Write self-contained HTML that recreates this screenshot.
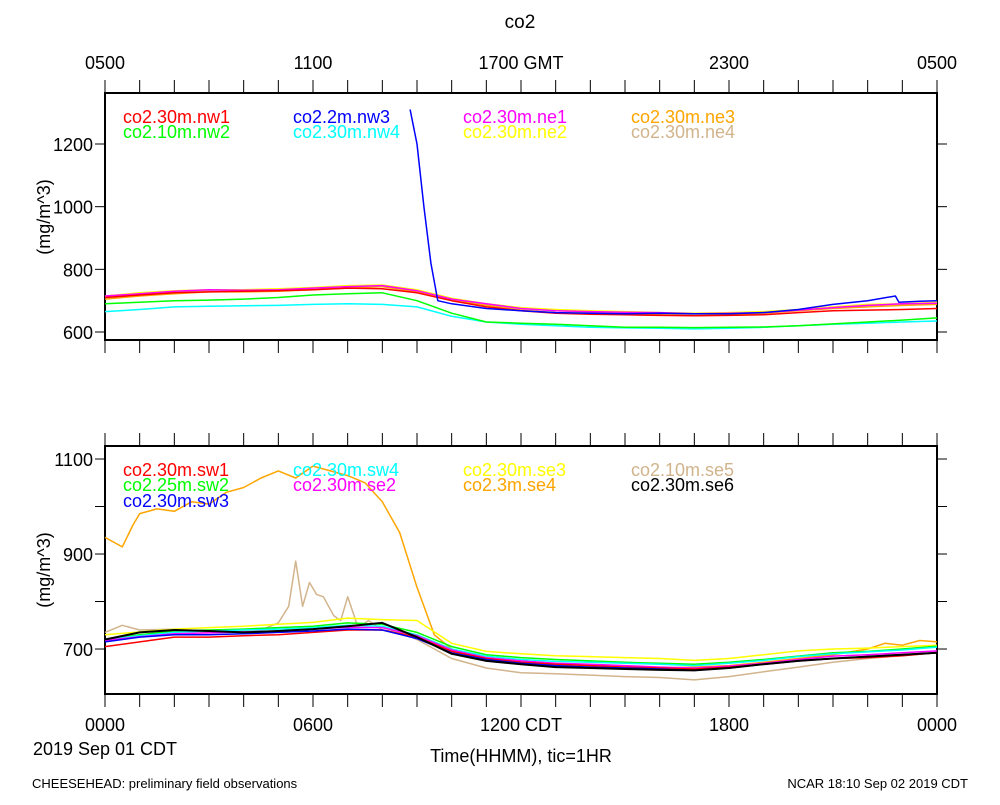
<!DOCTYPE html>
<html><head><meta charset="utf-8"><style>
body{margin:0;background:#fff}
svg text{font-family:"Liberation Sans",sans-serif}
</style></head><body>
<svg id="c" width="1000" height="800" viewBox="0 0 1000 800" xmlns="http://www.w3.org/2000/svg">
<text x="520" y="28" font-size="19" text-anchor="middle">co2</text>
<text x="50" y="217" font-size="18" text-anchor="middle" transform="rotate(-90 50 217)">(mg/m^3)</text>
<text x="50" y="570" font-size="18" text-anchor="middle" transform="rotate(-90 50 570)">(mg/m^3)</text>
<text x="105" y="755" font-size="18" text-anchor="middle">2019 Sep 01 CDT</text>
<text x="521" y="762" font-size="18" text-anchor="middle">Time(HHMM), tic=1HR</text>
<text x="32" y="788" font-size="13">CHEESEHEAD: preliminary field observations</text>
<text x="968" y="788" font-size="13" text-anchor="end">NCAR 18:10 Sep 02 2019 CDT</text>
<g id="g"></g>
</svg>
<script>
const topTickLabels=["0500","1100","1700 GMT","2300","0500"];
const botTickLabels=["0000","0600","1200 CDT","1800","0000"];
const topYTicks=[600,800,1000,1200];
const botYTicks=[700,900,1100];
const H=[0,1,2,3,4,5,6,7,8,9,10,11,12,13,14,15,16,17,18,19,20,21,22,23,24];
// top panel series (hourly)
const nw1=[710,718,725,728,730,732,735,740,738,725,700,680,668,660,657,655,653,652,653,655,662,668,670,672,675];
const nw2=[690,695,700,702,705,710,718,722,725,700,660,632,628,625,620,615,615,614,615,616,620,626,632,638,645];
const nw3T=[8.8,9.0,9.2,9.4,9.6,10,11,12,13,14,15,16,17,18,19,20,21,22,22.8,22.9,23.5,24];
const nw3=[1310,1200,1000,820,700,690,675,668,662,660,658,660,658,658,662,672,688,700,715,695,698,700];
const nw4=[665,672,680,682,684,685,688,690,688,680,650,632,625,620,615,613,612,610,612,615,620,625,628,632,635];
const ne1=[715,722,730,735,733,735,740,745,748,732,705,690,675,668,665,663,662,658,660,662,670,678,685,690,692];
const ne2=[715,725,732,735,735,738,742,748,750,735,708,690,678,672,668,665,662,660,662,665,672,680,688,690,695];
const ne3=[705,715,722,728,728,730,735,740,745,728,702,685,670,662,660,658,655,652,655,660,668,675,680,685,688];
const ne4=[712,722,728,732,732,735,740,745,748,730,705,688,675,668,664,662,660,656,660,663,670,678,684,688,690];
// bottom panel series
const sw1=[705,715,725,725,728,730,735,740,740,725,695,680,672,668,665,662,660,658,662,668,675,680,682,686,692];
const sw2=[720,730,738,740,742,745,748,755,752,735,705,688,682,678,675,672,670,668,672,678,685,692,695,700,706];
const sw3=[715,725,730,730,732,735,738,742,740,722,692,678,670,665,662,660,658,655,660,668,675,680,684,688,692];
const sw4=[720,728,735,738,740,742,745,750,748,730,700,685,678,674,672,670,668,665,670,676,684,690,694,698,704];
const se2=[718,726,732,734,736,738,742,746,745,728,698,682,675,670,668,665,662,660,664,670,678,685,688,692,696];
const se3=[730,736,742,745,748,752,756,765,762,760,712,695,690,686,684,682,680,676,680,688,696,700,702,705,708];
const se4T=[0,0.5,0.8,1,1.5,2,2.5,3,3.5,4,4.5,5,5.5,6,6.5,7,7.5,8,8.5,9,9.5,10,11,12,13,14,15,16,17,18,19,20,21,22,22.5,23,23.5,24];
const se4=[935,915,960,985,995,990,1010,1005,1030,1040,1060,1075,1060,1085,1075,1065,1050,1010,945,830,730,700,680,670,668,665,662,660,662,665,672,680,688,700,712,708,718,715];
const se5T=[0,0.5,1,2,3,4,4.5,5,5.3,5.5,5.7,5.9,6.1,6.3,6.6,6.8,7,7.3,7.6,8,8.5,9,10,11,12,13,14,15,16,17,18,19,20,21,22,23,24];
const se5=[735,750,740,742,735,738,740,755,790,885,790,840,815,810,770,760,810,745,760,740,735,720,680,660,650,648,645,642,640,635,642,652,662,672,680,686,692];
const se6=[720,735,740,738,735,738,742,748,755,725,690,675,668,662,660,658,656,655,660,668,675,680,684,688,692];

const g=document.getElementById('g');
const NS='http://www.w3.org/2000/svg';
const X0=105,X1=937;
function xs(h){return X0+(X1-X0)*h/24;}
function mk(tag,attrs){const e=document.createElementNS(NS,tag);for(const k in attrs)e.setAttribute(k,attrs[k]);g.appendChild(e);return e;}
function panel(name,top,bot,vmin,vmax,yticks,minorStep,xlabels,xlabY){
  const ys=v=>bot-(v-vmin)*(bot-top)/(vmax-vmin);
  const r=mk('rect',{x:X0,y:top,width:X1-X0,height:bot-top,fill:'none',stroke:'#000','stroke-width':2});
  
  
  for(let h=0;h<=24;h++){
    const x=xs(h);
    const a=mk('line',{x1:x,x2:x,y1:top-13,y2:top,stroke:'#000','stroke-width':1});
    
    
    const b=mk('line',{x1:x,x2:x,y1:bot,y2:bot+13,stroke:'#000','stroke-width':1});
    
    
  }
  xlabels.forEach((t,i)=>{
    const e=mk('text',{x:xs(i*6),y:xlabY,'font-size':18,'text-anchor':'middle'});
    e.textContent=t;
    
    
  });
  for(let v=Math.ceil(vmin/minorStep)*minorStep;v<=vmax;v+=minorStep){
    const y=ys(v);
    const a=mk('line',{x1:X0-10,x2:X0,y1:y,y2:y,stroke:'#000'});
    
    
    const b=mk('line',{x1:X1,x2:X1+10,y1:y,y2:y,stroke:'#000'});
    
    
  }
  yticks.forEach(v=>{
    const e=mk('text',{x:X0-12,y:ys(v)+7,'font-size':18,'text-anchor':'end'});
    e.textContent=v;
    
    
  });
  return ys;
}
function series(ys,name,T,V,color,w){
  const pts=T.map((h,i)=>xs(h).toFixed(1)+','+ys(V[i]).toFixed(1)).join(' ');
  const e=mk('polyline',{points:pts,fill:'none',stroke:color,'stroke-width':w||1.5,'stroke-linejoin':'round'});
  
  
}
function legend(name,x,y,text,color){
  const e=mk('text',{x:x,y:y,'font-size':18,fill:color});
  e.textContent=text;
  
  
}
const yt=panel('top',93,340,574.5,1362.8,topYTicks,200,topTickLabels,69);
series(yt,'nw4',H,nw4,'#00ffff');
series(yt,'nw2',H,nw2,'#00ff00');
series(yt,'ne4',H,ne4,'#d2b48c');
series(yt,'ne3',H,ne3,'#ffa500');
series(yt,'ne2',H,ne2,'#ffff00');
series(yt,'ne1',H,ne1,'#ff00ff');
series(yt,'nw1',H,nw1,'#ff0000');
series(yt,'nw3',nw3T,nw3,'#0000ff');
legend('nw1',123,123,'co2.30m.nw1','#ff0000');
legend('nw2',123,138,'co2.10m.nw2','#00ff00');
legend('nw3',293,123,'co2.2m.nw3','#0000ff');
legend('nw4',293,138,'co2.30m.nw4','#00ffff');
legend('ne1',463,123,'co2.30m.ne1','#ff00ff');
legend('ne2',463,138,'co2.30m.ne2','#ffff00');
legend('ne3',631,123,'co2.30m.ne3','#ffa500');
legend('ne4',631,138,'co2.30m.ne4','#d2b48c');

const yb=panel('bottom',446,694,605.3,1127.4,botYTicks,100,botTickLabels,731);
series(yb,'se5',se5T,se5,'#d2b48c');
series(yb,'se4',se4T,se4,'#ffa500');
series(yb,'se3',H,se3,'#ffff00');
series(yb,'sw2',H,sw2,'#00ff00');
series(yb,'sw4',H,sw4,'#00ffff');
series(yb,'se2',H,se2,'#ff00ff');
series(yb,'sw1',H,sw1,'#ff0000');
series(yb,'sw3',H,sw3,'#0000ff');
series(yb,'se6',H,se6,'#000000',2);
legend('sw1',123,476,'co2.30m.sw1','#ff0000');
legend('sw2',123,491,'co2.25m.sw2','#00ff00');
legend('sw3',123,507,'co2.30m.sw3','#0000ff');
legend('sw4',293,476,'co2.30m.sw4','#00ffff');
legend('se2',293,491,'co2.30m.se2','#ff00ff');
legend('se3',463,476,'co2.30m.se3','#ffff00');
legend('se4',463,491,'co2.3m.se4','#ffa500');
legend('se5',631,476,'co2.10m.se5','#d2b48c');
legend('se6',631,491,'co2.30m.se6','#000000');
</script>
</body></html>
